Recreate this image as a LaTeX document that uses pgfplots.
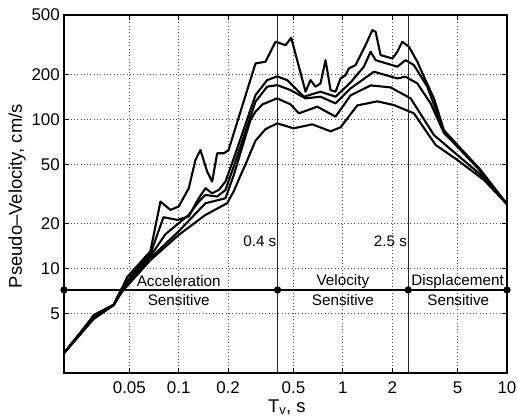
\documentclass[border=0pt]{standalone}
\usepackage{fontspec}
\setmainfont{Liberation Sans}
\usepackage{pgfplots}
\pgfplotsset{compat=1.18}

\begin{document}
\begin{tikzpicture}
\begin{axis}[
  xmode=log, ymode=log,
  width=443bp, height=358bp, scale only axis,
  xmin=0.02, xmax=10, ymin=2, ymax=500,
  xtick={0.05,0.1,0.2,0.5,1,2,5,10},
  xticklabels={0.05,0.1,0.2,0.5,1,2,5,10},
  ytick={5,10,20,50,100,200,500},
  yticklabels={5,10,20,50,100,200,500},
  xminorticks=false, yminorticks=false,
  tick align=inside, tick pos=both,
  major tick length=5bp,
  major tick style={black, line width=0.9bp},
  axis line style={line width=1.1bp},
  tick label style={font=\fontsize{17}{17}\selectfont},
  xticklabel style={inner sep=0pt, yshift=-8.5bp},
  yticklabel style={inner sep=0pt, xshift=-4bp},
  xlabel={T\textsubscript{v}, s},
  ylabel={Pseudo--Velocity, cm/s},
  label style={font=\fontsize{18.5}{18.5}\selectfont},
  xlabel style={at={(axis description cs:0.503,-0.109)}, anchor=base, inner sep=0pt},
  ylabel style={at={(axis description cs:-0.086,0.494)}, anchor=south, inner sep=0pt},
  clip marker paths=false,
  spec/.style={black, no markers, line width=2.1bp, line join=round},
  gridline/.style={black!70, no markers, line width=0.8bp, dash pattern=on 0.9bp off 2.4bp, forget plot},
  tickline/.style={black, no markers, line width=0.9bp, forget plot},
]
% dotted grid at the major ticks
\pgfplotsinvokeforeach{0.05,0.1,0.2,0.5,1,2,5}{
  \addplot[gridline] coordinates {(#1,2) (#1,500)};
  \addplot[tickline] coordinates {(#1,2) (#1,2.16)};
  \addplot[tickline] coordinates {(#1,500) (#1,463)};
}
\pgfplotsinvokeforeach{5,10,20,50,100,200}{
  \addplot[gridline] coordinates {(0.02,#1) (10,#1)};
  \addplot[tickline] coordinates {(0.02,#1) (0.02145,#1)};
  \addplot[tickline] coordinates {(10,#1) (9.32,#1)};
}
% spectrum curves
\addplot[spec] coordinates {
(0.02,2.72) (0.0252,3.65) (0.0303,4.89) (0.0402,5.73) (0.0452,7.41) (0.0485,8.77)
(0.0672,13.09) (0.0774,28.15) (0.0890,24.74) (0.1000,26.07) (0.1151,34.56)
(0.1264,53.43) (0.1356,62.32) (0.1490,44.69) (0.1598,38.31) (0.1715,59.24)
(0.1881,59.24) (0.2009,62.03) (0.2936,236.9) (0.3379,243.2) (0.3887,331.0)
(0.4474,314.1) (0.4847,352.0) (0.5923,153.2) (0.6353,183.2) (0.6813,165.5)
(0.7311,174.1) (0.7843,249.3) (0.8414,157.0) (0.9025,153.2) (0.9683,188.0)
(1.0387,197.8) (1.0879,219.4) (1.1953,230.8) (1.3753,314.1) (1.5114,395.8)
(1.5829,386.1) (1.6982,269.2) (2.0011,255.9) (2.1467,283.7) (2.3023,331.0)
(2.5260,306.4) (2.8428,243.2) (3.1182,193.0) (3.5884,138.2) (4.1295,84.5)
(5.0979,65.67) (6.9087,45.81) (10,27.0)
};
\addplot[spec] coordinates {
(0.02,2.72) (0.0303,4.81) (0.0402,5.73) (0.0452,7.41) (0.0545,9.77)
(0.0672,12.50) (0.0807,22.11) (0.0978,21.21) (0.1151,22.35) (0.1324,29.62)
(0.1455,34.56) (0.1598,31.99) (0.1754,33.67) (0.1927,38.31) (0.2165,54.84)
(0.2936,145.4) (0.3459,183.2) (0.3981,193.9) (0.4582,183.2) (0.5783,141.8)
(0.7311,153.2) (0.9025,141.8) (1.1143,176.8) (1.3428,225.2) (1.4757,283.7)
(1.5829,249.3) (2.1467,225.2) (2.4118,249.3) (2.7099,230.8) (3.2704,165.5)
(4.1295,82.8) (5.0979,64.97) (6.9087,45.24) (10,27.0)
};
\addplot[spec] coordinates {
(0.02,2.72) (0.0303,4.81) (0.0402,5.73) (0.0452,7.41) (0.0672,12.12)
(0.0830,17.01) (0.1000,20.15) (0.1151,22.91) (0.1324,28.15) (0.1455,31.16)
(0.1715,30.40) (0.1927,33.67) (0.2165,48.49) (0.2936,131.4) (0.3459,165.5)
(0.3981,169.6) (0.4799,157.0) (0.5923,138.2) (0.7311,141.8) (0.9025,127.9)
(1.1143,161.2) (1.5455,208.5) (2.1467,188.0) (2.4118,193.0) (2.8428,174.1)
(3.4259,127.9) (4.1295,81.0) (5.0979,63.97) (6.9087,44.89) (10,27.0)
};
\addplot[spec] coordinates {
(0.02,2.72) (0.0303,4.74) (0.0402,5.73) (0.0454,7.29) (0.0672,11.75)
(0.1000,17.81) (0.1455,27.42) (0.1927,29.62) (0.2165,42.41) (0.2736,98.93)
(0.2936,112.6) (0.3239,126.0) (0.3981,138.2) (0.4799,126.0) (0.5393,109.7)
(0.6982,121.6) (0.9025,104.3) (1.1143,144.7) (1.4757,168.8) (1.9541,163.7)
(2.5872,138.2) (3.5884,78.52) (4.9852,57.70) (7.2063,40.93) (10,27.0)
};
\addplot[spec] coordinates {
(0.02,2.72) (0.0303,4.59) (0.0402,5.70) (0.0454,7.07) (0.0672,11.40)
(0.1000,16.83) (0.1455,22.91) (0.1973,27.42) (0.2165,33.0) (0.2378,42.0)
(0.2555,50.0) (0.2736,60.0) (0.2936,72.0) (0.3379,86.0) (0.3981,94.02)
(0.5006,87.06) (0.6507,92.60) (0.8414,83.16) (0.9683,88.42) (1.2243,124.0)
(1.6212,132.0) (2.0468,124.6) (2.7099,109.7) (3.6748,67.31) (4.9852,53.43)
(7.2379,39.26) (10,27.0)
};
% period-range boundaries
\addplot[black!85, no markers, line width=1bp] coordinates {(0.4,2) (0.4,500)};
\addplot[black!85, no markers, line width=1bp] coordinates {(2.5,2) (2.5,500)};
\addplot[black, line width=1.2bp, mark=*, mark size=3bp, mark options={fill=black}] coordinates {
(0.02,7.2) (0.4,7.2) (2.5,7.2) (10,7.2)};
% region annotations
\begin{scope}[every node/.style={font=\fontsize{15.3}{15.3}\selectfont, inner sep=1bp}]
\node[anchor=east] at (axis cs:0.4,15.3) {0.4 s};
\node[anchor=east] at (axis cs:2.5,15.3) {2.5 s};
\node at (axis cs:0.1,8.25) {Acceleration};
\node at (axis cs:0.1,6.18) {Sensitive};
\node at (axis cs:1.0,8.25) {Velocity};
\node at (axis cs:1.0,6.18) {Sensitive};
\node at (axis cs:5.0,8.25) {Displacement};
\node at (axis cs:5.05,6.18) {Sensitive};
\end{scope}
\coordinate (bbl) at (rel axis cs:-0.1445,-0.1229);
\coordinate (btr) at (rel axis cs:1.0226,1.0419);
\end{axis}
\path (bbl) rectangle (btr);
\end{tikzpicture}
\end{document}
